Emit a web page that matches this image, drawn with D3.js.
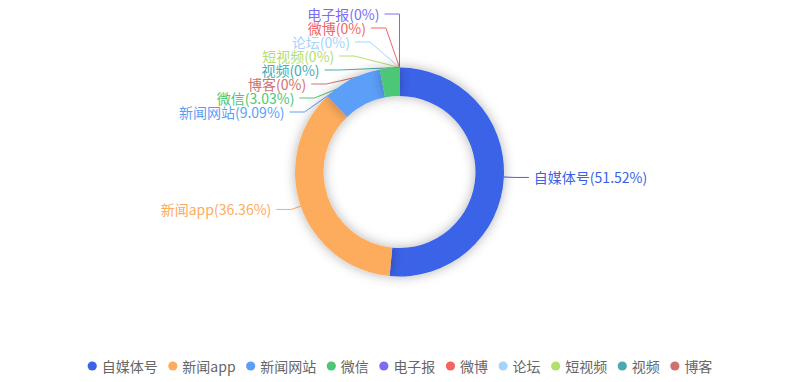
<!DOCTYPE html>
<html lang="zh">
<head>
    <meta charset="UTF-8">
    <script src="https://d3js.org/d3.v7.min.js"></script>
    <title>来源占比</title>
    <style>
        body{
            margin: 0;
            background: #fff;
            font-family: "Noto Sans CJK SC", "Noto Sans", sans-serif;
        }
        svg{
            display: block;
        }
    </style>
</head>
<body>
<svg width="799" height="382"></svg>
<script>
// data
const categories = ["自媒体号", "新闻app", "新闻网站", "微信", "电子报", "微博", "论坛", "短视频", "视频", "博客"]
const counts = [17, 12, 3, 1, 0, 0, 0, 0, 0, 0]
const percentLabels = ["51.52%", "36.36%", "9.09%", "3.03%", "0%", "0%", "0%", "0%", "0%", "0%"]
const colors = ["#3a63e8", "#fdac5d", "#5b9ff8", "#4cc774", "#7b6cf4", "#f46461", "#a7d3fb", "#b3e06c", "#4aa9b1", "#cf716d"]

const svg = d3.select("svg")
const cx = 399.5, cy = 172
const rOuter = 104.5, rInner = 76
const len1 = 10, len2 = 15, gap = 5
const lineH = 14

// shadow
const defs = svg.append("defs")
defs.append("filter").attr("id", "shadow")
    .attr("x", "-50%").attr("y", "-50%").attr("width", "200%").attr("height", "200%")
    .append("feDropShadow")
    .attr("dx", 0).attr("dy", 0).attr("stdDeviation", 6)
    .attr("flood-color", "#000").attr("flood-opacity", 0.3)

const pie = d3.pie().sort(null).value(d => d)
const arcs = pie(counts)
const arc = d3.arc().innerRadius(rInner).outerRadius(rOuter)

// label layout
let labels = arcs.map((a, i) => {
    const mid = (a.startAngle + a.endAngle) / 2
    const dir = mid > Math.PI ? -1 : 1
    return {
        i: i, mid: mid, dir: dir,
        p1: [cx + rOuter * Math.sin(mid), cy - rOuter * Math.cos(mid)],
        nx: cx + (rOuter + len1) * Math.sin(mid),
        ny: cy - (rOuter + len1) * Math.cos(mid)
    }
})

function spread(list){
    // sort by natural y, cluster overlapping labels around their mean
    list.sort((a, b) => a.ny - b.ny)
    let clusters = list.map(l => ({items: [l], sum: l.ny}))
    let merged = true
    while (merged) {
        merged = false
        for (let k = 0; k < clusters.length - 1; k++) {
            const a = clusters[k], b = clusters[k + 1]
            const aBottom = a.sum / a.items.length + (a.items.length - 1) * lineH / 2
            const bTop = b.sum / b.items.length - (b.items.length - 1) * lineH / 2
            if (bTop - aBottom < lineH) {
                clusters.splice(k, 2, {items: a.items.concat(b.items), sum: a.sum + b.sum})
                merged = true
                break
            }
        }
    }
    clusters.forEach(c => {
        const top = c.sum / c.items.length - (c.items.length - 1) * lineH / 2
        c.items.forEach((l, j) => l.y = top + j * lineH)
    })
    // keep inside view
    let prev = 14 - lineH
    list.forEach(l => { l.y = Math.max(l.y, prev + lineH); prev = l.y })
}

const left = labels.filter(l => l.dir < 0)
const right = labels.filter(l => l.dir > 0)
spread(left)
spread(right)

function placeX(list){
    const moved = list.filter(l => Math.abs(l.y - l.ny) > 0.5)
    const rB = d3.max(moved, l => Math.abs(cy - l.y)) || 1
    const rA = rOuter + len1
    list.forEach(l => {
        if (Math.abs(l.y - l.ny) > 0.5) {
            const t = Math.min(1, Math.abs(cy - l.y) / rB)
            l.cornerX = cx + l.dir * rA * Math.pow(1 - t * t, 1.2)
        } else {
            l.cornerX = l.nx
        }
    })
}
placeX(left)
placeX(right)

// label lines (under the ring)
const lineG = svg.append("g")
labels.forEach(l => {
    const p3 = [l.cornerX + l.dir * len2, l.y]
    lineG.append("path")
        .attr("d", d3.line()([l.p1, [l.cornerX, l.y], p3]))
        .attr("fill", "none")
        .attr("stroke", colors[l.i])
        .attr("stroke-width", 1)
})

// ring
const ring = svg.append("g").attr("transform", `translate(${cx},${cy})`)
ring.selectAll("path")
    .data(arcs.filter(a => a.value > 0))
    .join("path")
    .attr("d", arc)
    .attr("fill", d => colors[d.index])
    .attr("filter", "url(#shadow)")

// label text
svg.append("g").selectAll("text")
    .data(labels)
    .join("text")
    .attr("x", l => l.cornerX + l.dir * (len2 + gap))
    .attr("y", l => l.y)
    .attr("dominant-baseline", "central")
    .attr("text-anchor", l => l.dir < 0 ? "end" : "start")
    .attr("font-size", "14px")
    .attr("fill", l => colors[l.i])
    .text(l => `${categories[l.i]}(${percentLabels[l.i]})`)

// legend
const legendY = 366
const legend = svg.append("g")
const items = legend.selectAll("g")
    .data(categories)
    .join("g")
items.append("circle")
    .attr("r", 4.6)
    .attr("cx", 0)
    .attr("cy", legendY)
    .attr("fill", (d, i) => colors[i])
items.append("text")
    .attr("x", 9.5)
    .attr("y", legendY)
    .attr("dominant-baseline", "central")
    .attr("font-size", "14px")
    .attr("fill", "#666")
    .text(d => d)

let widths = []
items.select("text").each(function(){ widths.push(this.getComputedTextLength()) })
const itemGap = 10.5
const itemW = widths.map(w => 4.6 + 9.5 + w)
const total = d3.sum(itemW) + itemGap * (itemW.length - 1)
let xPos = 400 - total / 2 + 4.6
items.attr("transform", (d, i) => {
    const t = `translate(${xPos},0)`
    xPos += itemW[i] + itemGap
    return t
})
</script>
</body>
</html>
